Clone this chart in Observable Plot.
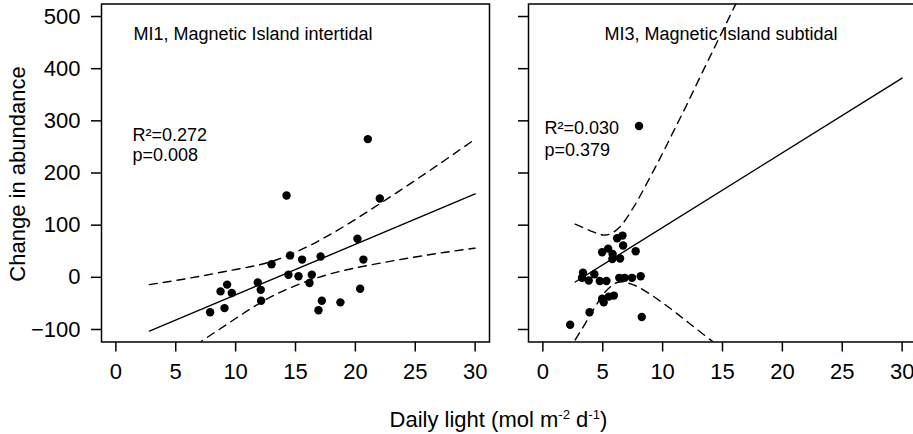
<!DOCTYPE html>
<html><head><meta charset="utf-8">
<script src="https://cdn.jsdelivr.net/npm/d3@7"></script>
<script src="https://cdn.jsdelivr.net/npm/@observablehq/plot@0.6"></script>
<style>
html,body{margin:0;padding:0;background:#fff;overflow:hidden;}
#wrap{position:relative;width:913px;height:434px;overflow:hidden;background:#fff;font-family:"Liberation Sans",Arial,sans-serif;color:#000;}
#left{position:absolute;left:0;top:0;width:500px;height:434px;}
#right{position:absolute;left:500px;top:0;width:416px;height:434px;}
svg{max-width:none !important;}
.ylab{position:absolute;left:18px;top:174px;transform:translate(-50%,-50%) rotate(-90deg);font-size:22px;line-height:22px;white-space:nowrap;}
.xlab{position:absolute;left:498.5px;top:408.7px;transform:translateX(-50%);font-size:22px;line-height:22px;white-space:nowrap;}
.xlab sup{font-size:0.6em;vertical-align:0;position:relative;top:-0.6em;line-height:0;}
</style>
</head><body>
<div id="wrap">
  <div id="left"></div>
  <div id="right"></div>
  <div class="ylab">Change in abundance</div>
  <div class="xlab">Daily light (mol m<sup>-2</sup> d<sup>-1</sup>)</div>
</div>
<script>
const xTicks = [0, 5, 10, 15, 20, 25, 30];
const yTicks = [-100, 0, 100, 200, 300, 400, 500];

const mi1Title = "MI1, Magnetic Island intertidal";
const mi1Stats = ["R²=0.272", "p=0.008"];
const mi1Light = [7.87, 9.07, 8.74, 9.29, 9.68, 11.85, 12.1, 12.13, 13.0, 14.25, 14.55, 14.41, 15.25, 15.55, 16.36, 16.17, 17.1, 17.2, 16.92, 18.75, 20.17, 20.67, 20.4, 21.04, 22.04];
const mi1Change = [-67, -59, -27, -14, -30, -10, -24, -45, 25, 157, 42, 5, 2, 34, 5, -11, 40, -45, -63, -48, 74, 34, -22, 265, 151];
const mi1FitX = [2.8, 30];
const mi1FitY = [-103, 160];
const mi1CiX = [2.8, 5, 7.5, 10, 12.5, 15, 17.5, 20, 22.5, 25, 27.5, 30];
const mi1Upper = [-14, -6, 4, 15, 27, 48, 77, 111, 148, 186, 225, 265];
const mi1Lower = [-190, -155, -117, -79, -43, -16, 4, 18, 29, 39, 48, 56];

const mi3Title = "MI3, Magnetic Island subtidal";
const mi3Stats = ["R²=0.030", "p=0.379"];
const mi3Light = [8.03, 6.2, 6.65, 6.7, 4.95, 5.45, 5.82, 5.8, 6.45, 7.75, 3.35, 4.3, 3.27, 3.83, 4.75, 5.31, 6.38, 6.83, 7.44, 8.17, 4.95, 5.08, 5.5, 5.93, 3.9, 2.28, 8.26];
const mi3Change = [290, 75, 80, 61, 48, 55, 45, 35, 36, 50, 9, 6, -1, -6, -7, -7, -1, -1, -1, 2, -41, -48, -37, -35, -67, -91, -76];
const mi3FitX = [2.7, 30];
const mi3FitY = [-9, 382];
const mi3UpperX = [2.7, 3.5, 4.2, 4.8, 5.2, 5.6, 6.0, 6.4, 6.8, 7.4, 8, 9, 10, 11, 12, 13, 14, 15, 16, 16.2];
const mi3Upper = [102, 94, 87, 82, 81, 83, 88, 96, 107, 128, 151, 194, 238, 284, 330, 378, 425, 472, 519, 528];
const mi3LowerX = [2.7, 3.5, 4.2, 4.8, 5.2, 5.6, 6.0, 6.4, 6.8, 7.4, 8, 9, 10, 11, 12, 13, 14, 14.4];
const mi3Lower = [-120, -90, -63, -41, -28, -19, -12, -9, -9, -13, -19, -33, -49, -66, -84, -102, -120, -127];

const FONT = "Liberation Sans, Arial, sans-serif";
const LW = 1.5;
const DASH = "8,6";

function panel(opts) {
  return Plot.plot({
    width: opts.width, height: 434,
    marginLeft: opts.marginLeft, marginRight: opts.marginRight,
    marginTop: 3.5, marginBottom: 92.5,
    x: {domain: [-1.2, 31.2]},
    y: {domain: [-124, 524]},
    style: {fontFamily: FONT, fontSize: "22px", color: "black", background: "transparent"},
    marks: [
      Plot.axisX({ticks: xTicks, tickSize: 10, tickPadding: 11, label: null, strokeWidth: LW, fontSize: 22}),
      Plot.axisY({ticks: yTicks, tickSize: 10, tickPadding: 11, label: null, strokeWidth: LW, fontSize: 22,
        tickFormat: opts.yLabels ? (d => d < 0 ? "\u2212" + Math.abs(d) : String(d)) : (() => "")}),
      Plot.line(opts.fitY, {x: opts.fitX, y: opts.fitY, stroke: "black", strokeWidth: 1.4, clip: true}),
      Plot.line(opts.upper, {x: opts.upperX, y: opts.upper, stroke: "black", strokeWidth: 1.4, strokeDasharray: DASH, curve: "natural", clip: true}),
      Plot.line(opts.lower, {x: opts.lowerX, y: opts.lower, stroke: "black", strokeWidth: 1.4, strokeDasharray: DASH, curve: "natural", clip: true}),
      Plot.dot(opts.change, {x: opts.light, y: opts.change, r: 4.2, fill: "black", stroke: null}),
      Plot.text([opts.title], {frameAnchor: "top-left", dx: opts.titleDx, dy: 30, text: d => d, textAnchor: "start", lineAnchor: "middle", fontSize: 18, fill: "black"}),
      Plot.text([opts.stats[0]], {frameAnchor: "top-left", dx: opts.statDx, dy: opts.statDy[0], text: d => d, textAnchor: "start", lineAnchor: "middle", fontSize: 18, fill: "black"}),
      Plot.text([opts.stats[1]], {frameAnchor: "top-left", dx: opts.statDx, dy: opts.statDy[1], text: d => d, textAnchor: "start", lineAnchor: "middle", fontSize: 18, fill: "black"}),
      Plot.frame({stroke: "black", strokeWidth: LW})
    ]
  });
}

document.getElementById("left").appendChild(panel({
  width: 500, marginLeft: 101, marginRight: 11, yLabels: true,
  fitX: mi1FitX, fitY: mi1FitY,
  upperX: mi1CiX, upper: mi1Upper, lowerX: mi1CiX, lower: mi1Lower,
  light: mi1Light, change: mi1Change,
  title: mi1Title, titleDx: 32, stats: mi1Stats, statDx: 31, statDy: [131, 151]
}));

document.getElementById("right").appendChild(panel({
  width: 416, marginLeft: 28, marginRight: 0, yLabels: false,
  fitX: mi3FitX, fitY: mi3FitY,
  upperX: mi3UpperX, upper: mi3Upper, lowerX: mi3LowerX, lower: mi3Lower,
  light: mi3Light, change: mi3Change,
  title: mi3Title, titleDx: 76, stats: mi3Stats, statDx: 16, statDy: [124.5, 146]
}));
</script>
</body></html>
